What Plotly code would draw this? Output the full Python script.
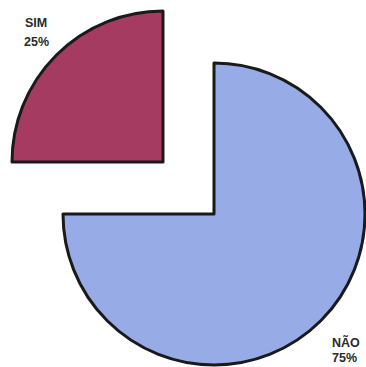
import plotly.graph_objects as go

# Survey answers and their shares (%)
labels = ["SIM", "NÃO"]
values = [25, 75]
colors = ["#A63B61", "#97ABE6"]

W, H = 366, 367
R = 151  # pie radius in px

# slice centres (px from top-left); the SIM wedge is pulled out toward the upper left
centres = {"NÃO": (214, 214), "SIM": (163, 162)}
# (x, y of name line, y of percent line, x anchor)
label_pos = {"SIM": (36, 23, 42, "center"), "NÃO": (330, 342, 358, "left")}


def domain_for(cx, cy, r=R):
    return dict(
        x=[(cx - r) / W, (cx + r) / W],
        y=[(H - (cy + r)) / H, (H - (cy - r)) / H],
    )


fig = go.Figure()

# one pie trace per wedge so each can sit at its own centre
for i, name in enumerate(labels):
    fill = ["rgba(0,0,0,0)"] * len(labels)
    fill[i] = colors[i]
    widths = [0] * len(labels)
    widths[i] = 3
    fig.add_trace(go.Pie(
        labels=labels,
        values=values,
        sort=False,
        direction="clockwise",
        rotation=270,
        marker=dict(colors=fill, line=dict(color="#1a1a1a", width=widths)),
        textinfo="none",
        hoverinfo="label+percent",
        showlegend=False,
        domain=domain_for(*centres[name]),
    ))

label_font = dict(family="Liberation Sans, Arial", size=12.5, color="#2a2a2a")
for name, val in zip(labels, values):
    x, y1, y2, anchor = label_pos[name]
    for txt, y in ((name, y1), (f"{val}%", y2)):
        fig.add_annotation(
            x=x / W, y=1 - y / H, xref="paper", yref="paper",
            text=f"<b>{txt}</b>", showarrow=False,
            xanchor=anchor, yanchor="middle", font=label_font,
        )

fig.update_layout(
    width=W, height=H,
    margin=dict(l=0, r=0, t=0, b=0),
    paper_bgcolor="white", plot_bgcolor="white",
)

fig.write_html("out.html")
